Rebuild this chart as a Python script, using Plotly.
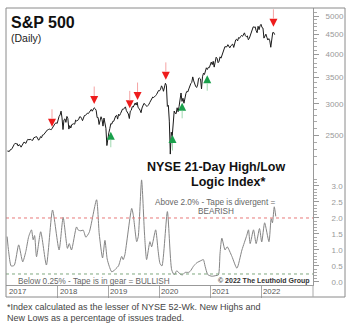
import plotly.graph_objects as go
import pandas as pd
import numpy as np

# ---------------- DATA ----------------
# S&P 500 weekly closes (Fridays), Jan 2017 - Apr 2022
sp_2017 = [2277, 2275, 2272, 2295, 2297, 2316, 2351, 2367, 2383, 2373, 2378, 2344, 2363,
           2355, 2329, 2349, 2384, 2399, 2391, 2381, 2416, 2439, 2432, 2433, 2438, 2423,
           2425, 2459, 2473, 2472, 2476, 2441, 2425, 2444, 2477, 2461, 2500, 2502, 2519,
           2549, 2553, 2575, 2581, 2588, 2582, 2579, 2602, 2642, 2651, 2675, 2684, 2673]
sp_2018 = [2743, 2786, 2810, 2873, 2762, 2581, 2732, 2747, 2691, 2786, 2752, 2588, 2641,
           2604, 2656, 2670, 2670, 2663, 2728, 2713, 2721, 2735, 2779, 2780, 2755, 2718,
           2760, 2801, 2802, 2819, 2840, 2833, 2850, 2875, 2902, 2872, 2905, 2930, 2914,
           2886, 2767, 2768, 2658, 2723, 2781, 2736, 2633, 2760, 2633, 2600, 2351, 2486]
sp_2019 = [2532, 2596, 2671, 2665, 2707, 2708, 2776, 2793, 2804, 2743, 2822, 2801, 2834,
           2893, 2907, 2905, 2940, 2946, 2881, 2860, 2826, 2752, 2873, 2887, 2950, 2942,
           2990, 3014, 2977, 3026, 2932, 2919, 2889, 2847, 2926, 2979, 3007, 2992, 2962,
           2952, 2970, 2986, 3023, 3067, 3093, 3120, 3110, 3141, 3146, 3169, 3221, 3240]
sp_2020 = [3235, 3265, 3330, 3295, 3226, 3328, 3380, 3338, 2954, 2972, 2711, 2237, 2541,
           2489, 2790, 2875, 2837, 2831, 2930, 2864, 2955, 3044, 3194, 3041, 3098, 3009,
           3130, 3185, 3225, 3216, 3271, 3351, 3373, 3397, 3508, 3427, 3341, 3319, 3298,
           3348, 3477, 3484, 3465, 3270, 3510, 3585, 3558, 3638, 3699, 3663, 3709, 3703]
sp_2021 = [3756, 3825, 3768, 3841, 3714, 3887, 3934, 3907, 3811, 3842, 3943, 3913, 3975,
           4020, 4129, 4185, 4180, 4181, 4233, 4174, 4156, 4204, 4230, 4247, 4166, 4281,
           4352, 4370, 4327, 4412, 4395, 4437, 4468, 4442, 4509, 4535, 4459, 4433, 4455,
           4357, 4391, 4471, 4545, 4605, 4698, 4683, 4698, 4595, 4538, 4712, 4620, 4725, 4766]
sp_2022 = [4677, 4663, 4398, 4432, 4500, 4419, 4349, 4385, 4329, 4170, 4463, 4543, 4546, 4488]
sp_values = sp_2017 + sp_2018 + sp_2019 + sp_2020 + sp_2021 + sp_2022
sp_dates = pd.date_range("2017-01-06", periods=len(sp_values), freq="W-FRI")

# NYSE 21-Day High/Low Logic Index (%)
hl_dates = ["2017-01-04", "2017-01-15", "2017-02-02", "2017-02-24", "2017-03-28", "2017-04-26",
            "2017-05-18", "2017-06-08", "2017-06-28", "2017-07-10", "2017-07-20", "2017-08-03",
            "2017-09-02", "2017-10-13", "2017-11-26", "2018-01-12", "2018-02-10", "2018-03-13",
            "2018-03-26", "2018-04-11", "2018-05-17", "2018-05-30", "2018-06-17", "2018-07-04",
            "2018-07-23", "2018-08-16", "2018-10-08", "2018-10-27", "2018-11-20", "2018-12-07",
            "2018-12-23", "2019-01-07", "2019-01-24", "2019-02-09", "2019-02-24", "2019-03-14",
            "2019-04-06", "2019-04-17", "2019-04-29", "2019-06-17", "2019-06-28", "2019-07-23",
            "2019-08-03", "2019-08-27", "2019-09-17", "2019-10-02", "2019-10-26", "2019-11-07",
            "2019-12-06", "2019-12-23", "2020-01-06", "2020-01-20", "2020-02-28", "2020-03-30",
            "2020-04-18", "2020-05-05", "2020-05-29", "2020-06-14", "2020-07-04", "2020-07-28",
            "2020-08-09", "2020-09-02", "2020-09-26", "2020-10-27", "2020-11-12", "2020-11-25",
            "2020-12-14", "2021-01-12", "2021-02-10", "2021-02-28", "2021-03-12", "2021-03-25",
            "2021-04-17", "2021-05-02", "2021-06-05", "2021-07-11", "2021-08-16", "2021-09-20",
            "2021-10-02", "2021-10-14", "2021-11-07", "2021-11-26", "2021-12-20", "2022-01-05",
            "2022-01-26", "2022-02-26", "2022-03-14", "2022-03-23", "2022-04-05", "2022-04-16"]
hl_values = [1.42, 0.95, 0.50, 0.52, 1.16, 0.63,
             0.95, 1.42, 1.63, 1.32, 1.45, 0.79,
             1.57, 0.53, 2.25, 1.00, 2.02, 1.05,
             1.20, 1.00, 1.72, 1.62, 1.60, 1.62,
             1.40, 1.55, 2.57, 1.50, 0.75, 1.30,
             0.72, 0.49, 0.32, 0.35, 0.42, 0.50,
             0.80, 0.70, 0.85, 2.30, 2.10, 1.26,
             1.42, 3.19, 1.50, 0.70, 1.26, 1.10,
             1.63, 1.00, 0.58, 0.50, 2.20, 0.38,
             0.22, 0.35, 0.25, 0.22, 0.30, 0.30,
             0.33, 0.49, 0.60, 0.67, 0.70, 0.49,
             0.23, 0.18, 0.20, 0.22, 0.90, 1.37,
             1.00, 1.10, 0.80, 0.43, 1.00, 1.46,
             1.63, 1.20, 1.63, 1.20, 1.67, 1.25,
             1.85, 1.26, 1.98, 1.85, 2.35, 2.05]

# Signal arrows (tip positions on the S&P scale)
sell_dates = ["2017-11-22", "2018-09-21", "2019-06-03", "2019-07-29", "2020-02-17", "2022-03-30"]
sell_values = [2623, 2995, 2920, 3065, 3448, 4698]
buy_dates = ["2019-01-18", "2020-04-05", "2020-06-13", "2020-12-10"]
buy_values = [2548, 2500, 3016, 3543]

sp_ticks = [2500, 3000, 3500, 4000, 4500, 5000]
hl_ticks = [0.0, 0.5, 1.0, 1.5, 2.0, 2.5, 3.0]
years = ["2017", "2018", "2019", "2020", "2021", "2022"]
bearish_level = 2.0
bullish_level = 0.25

# ---------------- LAYOUT HELPERS ----------------
W, H = 350, 325
L, R, T, B = 6, 313, 8, 285
def px(x):
    return (x - L) / (R - L)
def py(y):
    return (B - y) / (B - T)

FONT = "Liberation Sans, Arial, sans-serif"

fig = go.Figure()

# lower panel index
fig.add_trace(go.Scatter(x=hl_dates, y=hl_values, yaxis="y2", mode="lines",
                         line=dict(color="#858585", width=1, shape="spline", smoothing=0.6),
                         hoverinfo="skip"))
# threshold lines
x_start, x_end = "2016-12-27", "2023-01-08"
fig.add_trace(go.Scatter(x=[x_start, x_end], y=[bearish_level, bearish_level], yaxis="y2",
                         mode="lines", line=dict(color="#e87a7a", width=1, dash="dot"),
                         hoverinfo="skip"))
fig.add_trace(go.Scatter(x=[x_start, x_end], y=[bullish_level, bullish_level], yaxis="y2",
                         mode="lines", line=dict(color="#7fa87f", width=1, dash="dot"),
                         hoverinfo="skip"))

# S&P 500 line
fig.add_trace(go.Scatter(x=sp_dates, y=sp_values, yaxis="y", mode="lines",
                         line=dict(color="#1a1a1a", width=1), hoverinfo="skip"))

# arrow heads
fig.add_trace(go.Scatter(x=sell_dates, y=sell_values, yaxis="y", mode="markers",
                         marker=dict(symbol="arrow-down", size=8, color="#ee1c1c",
                                     line=dict(width=0)), hoverinfo="skip"))
fig.add_trace(go.Scatter(x=buy_dates, y=buy_values, yaxis="y", mode="markers",
                         marker=dict(symbol="arrow-up", size=8, color="#19a04b",
                                     line=dict(width=0)), hoverinfo="skip"))

annotations = []
# arrow stems
for d, v in zip(sell_dates, sell_values):
    annotations.append(dict(x=d, y=np.log10(v), xref="x", yref="y", text="", showarrow=True,
                            arrowhead=0, arrowwidth=1, arrowcolor="#f5a3a3", ax=0, ay=-19,
                            standoff=8))
for d, v in zip(buy_dates, buy_values):
    annotations.append(dict(x=d, y=np.log10(v), xref="x", yref="y", text="", showarrow=True,
                            arrowhead=0, arrowwidth=1, arrowcolor="#9fd8b0", ax=0, ay=17,
                            standoff=8))

def txt(t, x, y, size, color="#333", bold=False, anchor="left"):
    if bold:
        t = "<b>" + t + "</b>"
    annotations.append(dict(text=t, x=px(x), y=py(y), xref="paper", yref="paper",
                            xanchor=anchor, yanchor="middle", showarrow=False,
                            font=dict(family=FONT, size=size, color=color)))

txt("S&P 500", 9, 22, 16, "#111", bold=True)
txt("(Daily)", 9, 38, 10.5, "#222")
txt("NYSE 21-Day High/Low", 216, 167, 12.5, "#111", bold=True, anchor="center")
txt("Logic Index*", 228, 182, 12.5, "#111", bold=True, anchor="center")
txt("Above 2.0% - Tape is divergent =", 215, 202, 8.2, "#666", anchor="center")
txt("BEARISH", 215.5, 211, 8.2, "#666", anchor="center")
txt("Below 0.25% - Tape is in gear = BULLISH", 94, 281, 8.2, "#666", anchor="center")
txt("© 2022 The Leuthold Group", 312, 281, 7, "#333", bold=True, anchor="right")
txt("*Index calculated as the lesser of NYSE 52-Wk. New Highs and", 5, 307, 9, "#444")
txt("New Lows as a percentage of issues traded.", 5, 318, 9, "#444")

# year labels in strip
for yr in years:
    annotations.append(dict(text=yr, x=f"{yr}-01-01", y=py(291), xref="x", yref="paper",
                            xanchor="left", yanchor="middle", showarrow=False, xshift=0,
                            font=dict(family=FONT, size=7.8, color="#555")))

shapes = [
    # outer frame
    dict(type="rect", xref="paper", yref="paper", x0=0, x1=px(345), y0=py(297), y1=1,
         line=dict(color="#8a8a8a", width=1), fillcolor="rgba(0,0,0,0)", layer="above"),
    # right end of year strip
    dict(type="line", xref="paper", yref="paper", x0=1, x1=1, y0=py(297), y1=0,
         line=dict(color="#aaa", width=1)),
]

sp_minor = list(range(2100, 5200, 100))
hl_minor = [i / 10 for i in range(0, 33)]

fig.update_layout(
    width=W, height=H,
    margin=dict(l=L, r=W - R, t=T, b=H - B, pad=0),
    paper_bgcolor="white", plot_bgcolor="white",
    showlegend=False,
    annotations=annotations,
    shapes=shapes,
    xaxis=dict(type="date", range=[x_start, x_end], showgrid=False, zeroline=False,
               showline=True, linecolor="#999", linewidth=1,
               ticks="outside", ticklen=12, tickcolor="#aaa", tickwidth=1,
               tickvals=[f"{y}-01-01" for y in years[1:]], showticklabels=False),
    yaxis=dict(type="log", range=[3.0182, 3.7195], side="right", showgrid=False,
               zeroline=False, showline=True, linecolor="#999", linewidth=1,
               ticks="outside", ticklen=5, tickcolor="#999",
               tickvals=sp_ticks, ticktext=[str(v) for v in sp_ticks],
               tickfont=dict(family=FONT, size=8, color="#999"),
               ticklabelstandoff=5,
               minor=dict(tickmode="array", tickvals=sp_minor, ticks="outside",
                          ticklen=3, tickcolor="#aaa")),
    yaxis2=dict(overlaying="y", side="right", anchor="x", range=[-0.094, 8.562],
                showgrid=False, zeroline=False, showline=False,
                ticks="outside", ticklen=5, tickcolor="#999",
                tickvals=hl_ticks, ticktext=[f"{v:.1f}" for v in hl_ticks],
                tickfont=dict(family=FONT, size=8, color="#999"),
                ticklabelstandoff=11,
                minor=dict(tickmode="array", tickvals=hl_minor, ticks="outside",
                           ticklen=3, tickcolor="#aaa")),
)

fig.write_html("out.html")
